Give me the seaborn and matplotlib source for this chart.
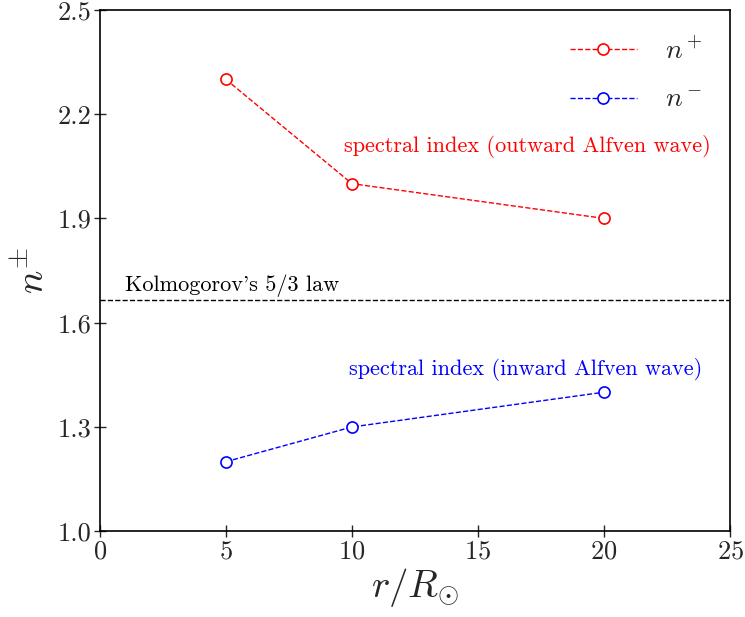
import pandas as pd
import matplotlib
matplotlib.use('Agg')
import matplotlib.pyplot as plt
import seaborn as sns

# radial distance in solar radii
r = [5, 10, 20]
n_plus = [2.3, 2.0, 1.9]    # outward Alfven wave
n_minus = [1.2, 1.3, 1.4]   # inward Alfven wave
kolmogorov = 5 / 3

df = pd.DataFrame({'r': r * 2,
                   'n': n_plus + n_minus,
                   'series': ['$n^+$'] * 3 + ['$n^-$'] * 3})

sns.set_style('ticks')
plt.rcParams['font.family'] = ['cmr10', 'DejaVu Serif']
plt.rcParams['mathtext.fontset'] = 'cm'
plt.rcParams['axes.formatter.use_mathtext'] = True
plt.rcParams['axes.unicode_minus'] = False

fig = plt.figure(figsize=(7.45, 6.17), dpi=100)
ax = fig.add_axes([0.134, 0.139, 0.846, 0.845])

sns.lineplot(data=df, x='r', y='n', hue='series',
             palette={'$n^+$': 'red', '$n^-$': 'blue'},
             linestyle='--', linewidth=1, marker='o', markersize=8,
             markerfacecolor='white', markeredgewidth=1.2, ax=ax)
for line, c in zip(ax.lines, ['red', 'blue']):
    line.set_markeredgecolor(c)

ax.axhline(kolmogorov, color='black', linestyle='--', linewidth=1)
ax.text(1, 1.69, "Kolmogorov's 5/3 law", fontsize=16, color='black')
ax.text(9.7, 2.09, 'spectral index (outward Alfven wave)', fontsize=16, color='red')
ax.text(9.9, 1.45, 'spectral index (inward Alfven wave)', fontsize=16, color='blue')

ax.set_xlim(0, 25)
ax.set_ylim(1.0, 2.5)
ax.set_xticks([0, 5, 10, 15, 20, 25])
ax.set_yticks([1.0, 1.3, 1.6, 1.9, 2.2, 2.5])
ax.set_yticklabels(['1.0', '1.3', '1.6', '1.9', '2.2', '2.5'])
ax.tick_params(direction='inout', length=8, width=1, labelsize=19, pad=2)
for s in ax.spines.values():
    s.set_linewidth(1.2)
    s.set_color('black')

ax.set_xlabel(r'$r/R_{\odot}$', fontsize=28, labelpad=2)
ax.set_ylabel(r'$n^{\pm}$', fontsize=28, labelpad=4)

leg = ax.legend(loc='upper right', frameon=False, fontsize=20, handlelength=2.4,
                handletextpad=1.0, labelspacing=0.8, borderaxespad=0.6)
leg.set_title(None)
for h, c in zip(leg.legend_handles, ['red', 'blue']):
    h.set_markeredgecolor(c)
    h.set_markerfacecolor('white')

fig.savefig('out.png', dpi=100)
